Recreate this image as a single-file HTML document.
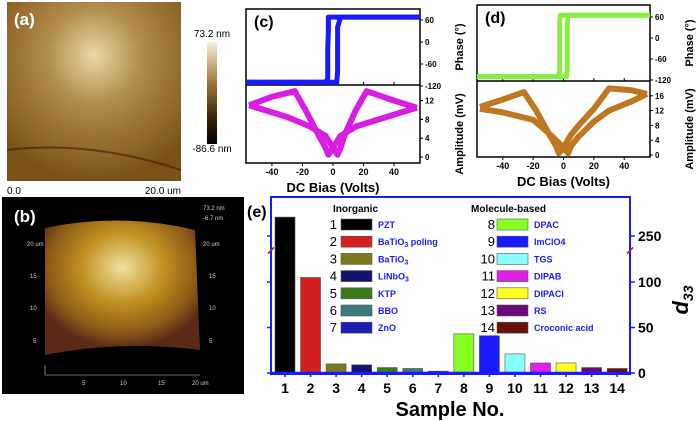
<!DOCTYPE html>
<html><head><meta charset="utf-8"><style>
body{margin:0;background:#fff;}
svg{display:block;font-family:"Liberation Sans",sans-serif;}
</style></head><body>
<svg id="fig" width="700" height="421" viewBox="0 0 700 421">
<defs>
<radialGradient id="ga" cx="0.5" cy="0.3" r="0.7"><stop offset="0" stop-color="#e8d8a8"/><stop offset="0.4" stop-color="#b08a48"/><stop offset="1" stop-color="#7a5218"/></radialGradient>
<linearGradient id="cb" x1="0" y1="0" x2="0" y2="1"><stop offset="0" stop-color="#f4f0dc"/><stop offset="0.4" stop-color="#a07838"/><stop offset="0.75" stop-color="#3a2008"/><stop offset="1" stop-color="#000"/></linearGradient>
<radialGradient id="gb" cx="0.5" cy="0.35" r="0.6"><stop offset="0" stop-color="#f0e0a0"/><stop offset="0.45" stop-color="#c09020"/><stop offset="0.8" stop-color="#8a5a18"/><stop offset="1" stop-color="#5a2a18"/></radialGradient>
</defs>
<g>
<rect x="7" y="2" width="174" height="179" fill="url(#ga)"/>
<path d="M7 150 Q90 140 181 170" stroke="#3a2008" stroke-width="2" fill="none" opacity="0.6"/>
<text x="14" y="25" font-size="17" font-weight="bold" fill="#fff">(a)</text>
<text x="7" y="194" font-size="10" fill="#000">0.0</text>
<text x="181" y="194" font-size="10" fill="#000" text-anchor="end">20.0 um</text>
<rect x="207" y="42" width="10" height="102" fill="url(#cb)"/>
<text x="212" y="37" font-size="10" text-anchor="middle">73.2 nm</text>
<text x="212" y="148" font-size="10" text-anchor="middle" dy="4">-86.6 nm</text>
</g>
<g>
<rect x="2" y="197" width="242" height="197" fill="#000"/>
<path d="M45 228 Q120 212 195 230 L200 350 Q120 340 45 355 Z" fill="url(#gb)"/>
<text x="14" y="222" font-size="17" font-weight="bold" fill="#fff">(b)</text>
<g font-size="6" fill="#ccc">
<text x="27" y="246">20 um</text><text x="30" y="278">15</text><text x="30" y="310">10</text><text x="33" y="343">5</text>
<text x="203" y="246">20 um</text><text x="209" y="278">15</text><text x="209" y="310">10</text><text x="209" y="343">5</text>
<text x="82" y="385">5</text><text x="120" y="385">10</text><text x="158" y="385">15</text><text x="192" y="385">20 um</text>
<text x="203" y="210">73.2 nm</text><text x="203" y="220">-6.7 nm</text>
</g>
<path d="M45 375 H200 M45 365 V375" stroke="#ccc" stroke-width="0.6"/>
</g>
<g id="panelC"></g>
<g id="panelD"></g>
<g id="panelE"></g>
</svg>
<script>
const cPhaseX = [-57,-40,-20,-5,-3.5,-3.5,-3.5,-3,-3,5,20,40,57];
const cPhaseY = [-110,-110,-110,-110,-100,-60,-20,30,68,68,68,68,68];
const cPhaseX2 = [57,40,20,5,3,3,3,3,2.5,-5,-20,-40,-57];
const cPhaseY2 = [68,68,68,68,40,0,-40,-80,-110,-110,-110,-110,-110];
const cAmpX1 = [-55,-40,-25,-18,-10,-5,-3,0,5,15,30,45,55];
const cAmpY1 = [11,12.8,14,10,5,2,0.5,2,4.5,6.5,8,9.5,10.5];
const cAmpX2 = [55,40,22,15,8,5,3,0,-5,-15,-30,-45,-55];
const cAmpY2 = [10.5,12,14,10,5,2,0.5,2,4.5,6.5,8.5,10,11];
const dPhaseX = [-57,-40,-20,-3,-2.5,-2.5,-2.5,-2,5,20,40,57];
const dPhaseY = [-110,-110,-110,-110,-90,0,50,65,65,65,65,65];
const dPhaseX2 = [57,40,20,3,2.5,2.5,2.5,2,-5,-20,-40,-57];
const dPhaseY2 = [65,65,65,65,40,-40,-90,-110,-110,-110,-110,-110];
const dAmpX1 = [-55,-40,-26,-18,-10,-5,-3,0,5,10,20,30,45,55];
const dAmpY1 = [13,15,17,12,6,2.5,0.5,2,5.5,8,12.5,18,17.5,16.5];
const dAmpX2 = [55,45,30,20,10,5,3,0,-5,-10,-20,-40,-55];
const dAmpY2 = [16.5,14.5,12,9,5,2.5,0.5,2,4,6,9.5,11.5,12.5];
const biasTicks = [-40,-20,0,20,40];
const phaseTicks = [60,0,-60,-120];
const cAmpTicks = [12,8,4,0];
const dAmpTicks = [16,12,8,4,0];

const samples = [1,2,3,4,5,6,7,8,9,10,11,12,13,14];
const d33 = [313,105,10,9,6,5,2,43,41,21,11,11,6,5];
const names = ["PZT","BaTiO3 poling","BaTiO3","LiNbO3","KTP","BBO","ZnO","DPAC","ImClO4","TGS","DIPAB","DIPACl","RS","Croconic acid"];
const barColors = ["#000000","#d42020","#7a7a1e","#14146e","#3c7a1e","#3c7a78","#1e1eb4","#88ff22","#1a1aff","#88ffff","#e020e8","#ffff22","#6a0a7a","#6a1010"];
const d33Ticks = [0,50,100,250];

const NS="http://www.w3.org/2000/svg";
function mk(parent,tag,attrs,text){const e=document.createElementNS(NS,tag);for(const k in attrs)e.setAttribute(k,attrs[k]);if(text!==undefined)e.textContent=text;parent.appendChild(e);return e;}

function drawPanel(g,o){
  const xs=v=>o.x0+(v+57)/114*(o.x1-o.x0);
  const ps=v=>o.p0+(60-v)*o.pk;
  const as=v=>o.a0-v*o.ak;
  const frame=mk(g,'rect',{x:o.x0,y:o.top,width:o.x1-o.x0,height:o.bot-o.top,fill:'none',stroke:'#000','stroke-width':1.5});
  
  
  mk(g,'line',{x1:o.x0,x2:o.x1,y1:o.mid,y2:o.mid,stroke:'#000','stroke-width':1.5});
  for(const t of biasTicks){
    const tl=mk(g,'text',{x:xs(t),y:o.bot+12,'font-size':9,'font-weight':'bold','text-anchor':'middle'},String(t));
    
    
    mk(g,'line',{x1:xs(t),x2:xs(t),y1:o.bot,y2:o.bot+3,stroke:'#000'});
    mk(g,'line',{x1:xs(t),x2:xs(t),y1:o.mid,y2:o.mid-3,stroke:'#000'});
  }
  for(const t of phaseTicks){
    mk(g,'line',{x1:o.x1,x2:o.x1+3,y1:ps(t),y2:ps(t),stroke:'#000'});
    const tl=mk(g,'text',{x:o.x1+5,y:ps(t)+3,'font-size':8,'font-weight':'bold'},String(t));
    
    
  }
  for(const t of o.ampTicks){
    mk(g,'line',{x1:o.x1,x2:o.x1+3,y1:as(t),y2:as(t),stroke:'#000'});
    const tl=mk(g,'text',{x:o.x1+5,y:as(t)+3,'font-size':8,'font-weight':'bold'},String(t));
    
    
  }
  const pts=(X,Y,f)=>X.map((x,i)=>xs(x).toFixed(1)+','+f(Y[i]).toFixed(1)).join(' ');
  for(const [X,Y] of o.phase){
    const l=mk(g,'polyline',{points:pts(X,Y,ps),fill:'none',stroke:o.pc,'stroke-width':5,'stroke-linejoin':'round'});
    
    
  }
  for(const [X,Y] of o.amp){
    const l=mk(g,'polyline',{points:pts(X,Y,as),fill:'none',stroke:o.ac,'stroke-width':6,'stroke-linejoin':'round'});
    
    
  }
  const lab=mk(g,'text',{x:o.x0+8,y:o.top+18,'font-size':16,'font-weight':'bold'},o.label);
  
  
  const xt=mk(g,'text',{x:(o.x0+o.x1)/2,y:o.bot+29,'font-size':13,'font-weight':'bold','text-anchor':'middle'},'DC Bias (Volts)');
  
  
  for(const rx of o.ylabX){
    const a=mk(g,'text',{transform:`translate(${rx},${(o.top+o.mid)/2}) rotate(-90)`,'font-size':11,'font-weight':'bold','text-anchor':'middle'},'Phase (°)');
    
    
    const b=mk(g,'text',{transform:`translate(${rx},${(o.mid+o.bot+20)/2}) rotate(-90)`,'font-size':11,'font-weight':'bold','text-anchor':'middle'},'Amplitude (mV)');
    
    
  }
}
drawPanel(document.getElementById('panelC'),{x0:246,x1:420,top:9,mid:85,bot:163,p0:20,pk:22/60,a0:157,ak:4.7,
  ampTicks:cAmpTicks,pc:'#1a1aff',ac:'#d81ee0',label:'(c)',ylabX:[463],
  phase:[[cPhaseX,cPhaseY],[cPhaseX2,cPhaseY2]],amp:[[cAmpX1,cAmpY1],[cAmpX2,cAmpY2]]});
drawPanel(document.getElementById('panelD'),{x0:477,x1:650,top:5,mid:81,bot:157,p0:17,pk:21/60,a0:155,ak:3.7,
  ampTicks:dAmpTicks,pc:'#88ee44',ac:'#c07820',label:'(d)',ylabX:[693],
  phase:[[dPhaseX,dPhaseY],[dPhaseX2,dPhaseY2]],amp:[[dAmpX1,dAmpY1],[dAmpX2,dAmpY2]]});

(function(){
 const g=document.getElementById('panelE');
 const L=271,R=630,T=197,B=373;
 const xs=i=>285+(i-1)*25.55;
 const ys=v=>v<=120?B-v*0.91:236-(v-250)*0.3;
 const fr=mk(g,'rect',{x:L,y:T,width:R-L,height:B-T+1,fill:'#fff',stroke:'#1a1aff','stroke-width':2});
 
 
 samples.forEach((s,i)=>{
  const y=ys(d33[i]);
  const r=mk(g,'rect',{x:xs(s)-10,y:y,width:20,height:B-y,fill:barColors[i],stroke:'#555','stroke-width':0.6});
  
  
  const t=mk(g,'text',{x:xs(s),y:393,'font-size':14,'font-weight':'bold','text-anchor':'middle'},String(s));
  
  
  mk(g,'line',{x1:xs(s),x2:xs(s),y1:B,y2:B+4,stroke:'#1a1aff','stroke-width':1.5});
 });
 mk(g,'line',{x1:L,x2:R,y1:B,y2:B,stroke:'#1a1aff','stroke-width':2.5});
 for(const t of d33Ticks){
  mk(g,'line',{x1:R,x2:R+5,y1:ys(t),y2:ys(t),stroke:'#1a1aff','stroke-width':1.5});
  mk(g,'line',{x1:L,x2:L-4,y1:ys(t),y2:ys(t),stroke:'#1a1aff','stroke-width':1.5});
  const tl=mk(g,'text',{x:R+8,y:ys(t)+5,'font-size':14,'font-weight':'bold'},String(t));
  
  
 }
 for(const y of [250,251]){
  mk(g,'line',{x1:L-3,x2:L+3,y1:y+3,y2:y-3,stroke:'#a03030','stroke-width':1});
  mk(g,'line',{x1:R-3,x2:R+3,y1:y+3,y2:y-3,stroke:'#a03030','stroke-width':1});
 }
 const e=mk(g,'text',{x:247,y:217,'font-size':16,'font-weight':'bold'},'(e)');
 
 
 const yt=mk(g,'text',{transform:'translate(688,300) rotate(-90)','font-size':22,'font-weight':'bold','font-style':'italic','text-anchor':'middle'});
 
 
 yt.innerHTML='d<tspan font-size="14" dy="5">33</tspan>';
 const xt=mk(g,'text',{x:450,y:416,'font-size':20,'font-weight':'bold','text-anchor':'middle'},'Sample No.');
 
 
 const h1=mk(g,'text',{x:333,y:212,'font-size':10,'font-weight':'bold'},'Inorganic');
 
 
 const h2=mk(g,'text',{x:471,y:212,'font-size':10,'font-weight':'bold'},'Molecule-based');
 
 
 samples.forEach((s,i)=>{
  const col=i<7?0:1, row=i%7;
  const y=224+row*17.2;
  const nx=col?495:337, sx=col?497:341, lx=col?534:378;
  const le=mk(g,'g',{});
  
  
  mk(le,'text',{x:nx,y:y+5,'font-size':13,'text-anchor':'end'},String(s));
  mk(le,'rect',{x:sx,y:y-5,width:31,height:11,fill:barColors[i],stroke:'#555','stroke-width':0.6});
  const lt=mk(le,'text',{x:lx,y:y+4,'font-size':9,'font-weight':'bold',fill:'#1a1aff'});
  lt.innerHTML=names[i].replace(/O3(.*)/,'O<tspan font-size="7" dy="2">3</tspan><tspan dy="-2">$1</tspan>');
 });
})();
</script>
</body></html>
